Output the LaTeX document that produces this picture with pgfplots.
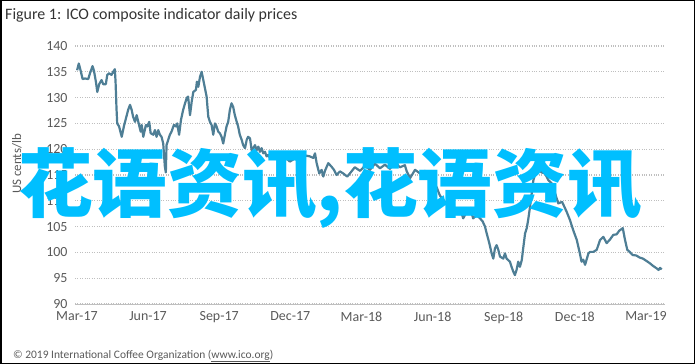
\documentclass[border=0pt]{standalone}
\usepackage{fontspec}
\setmainfont{Carlito}
\newfontfamily\cjk{Noto Sans CJK SC}
\usepackage{pgfplots}
\pgfplotsset{compat=1.18}
\definecolor{lineblue}{HTML}{4E7E95}
\definecolor{gridgray}{HTML}{BFBFBF}
\definecolor{txtgray}{HTML}{595959}
\definecolor{wmcyan}{HTML}{00BFFF}
\begin{document}
\begin{tikzpicture}
\path[use as bounding box] (0,0) rectangle (695bp,364bp);
\begin{axis}[
  at={(75bp,60bp)}, anchor=south west,
  scale only axis, width=590bp, height=258bp,
  xmin=-0.08, xmax=24.8, ymin=90, ymax=140,
  axis x line=bottom, axis y line=left,
  x axis line style={gridgray, line width=0.8bp, -},
  y axis line style={draw=none},
  xtick={0,3,6,9,12,15,18,21,24},
  xticklabels={Mar-17,Jun-17,Sep-17,Dec-17,Mar-18,Jun-18,Sep-18,Dec-18,Mar-19},
  ytick={90,95,...,140},
  ymajorgrids,
  major grid style={gridgray, dotted, line width=1.2bp},
  major tick length=0pt,
  tick label style={font=\fontsize{14}{14}\selectfont, text=txtgray},
  xticklabel style={yshift=-4bp},
  yticklabel style={xshift=-4bp},
  /pgf/number format/assume math mode=true,
  clip=false,
]
\addplot[lineblue, line width=2.2bp, line join=round] coordinates {
(0.01,135.3)(0.08,136.6)(0.17,135.0)(0.24,133.6)(0.34,133.7)(0.48,133.6)(0.55,134.7)(0.66,136.1)(0.72,135.2)(0.80,133.1)
(0.86,131.1)(0.94,132.6)(1.04,133.4)(1.11,132.6)(1.22,132.6)(1.28,134.4)(1.36,134.7)(1.46,134.4)(1.53,135.0)(1.60,135.5)
(1.63,133.1)(1.67,127.9)(1.70,125.0)(1.78,124.4)(1.89,122.4)(1.98,124.4)(2.07,126.0)(2.16,127.6)(2.24,128.6)(2.31,127.6)
(2.37,126.3)(2.45,125.3)(2.52,126.6)(2.59,125.3)(2.69,123.4)(2.73,124.7)(2.80,122.4)(2.91,124.7)(2.97,124.4)(3.05,125.3)
(3.11,123.1)(3.22,122.8)(3.29,123.7)(3.36,122.4)(3.43,123.7)(3.50,122.8)(3.57,122.4)(3.64,121.1)(3.71,116.6)(3.75,115.5)
(3.78,120.8)(3.85,121.8)(3.92,122.8)(3.99,123.4)(4.09,124.7)(4.18,124.4)(4.23,125.0)(4.31,122.8)(4.39,125.7)(4.48,127.6)
(4.56,128.9)(4.63,129.9)(4.69,130.2)(4.77,126.6)(4.84,129.2)(4.91,131.1)(5.02,131.5)(5.06,133.1)(5.12,132.1)(5.19,134.0)
(5.26,135.0)(5.33,133.4)(5.40,131.8)(5.47,130.2)(5.54,126.3)(5.61,125.3)(5.68,124.7)(5.75,122.8)(5.82,125.0)(5.89,124.4)
(5.96,123.4)(6.03,123.1)(6.10,122.4)(6.17,121.1)(6.24,122.8)(6.31,124.4)(6.38,125.3)(6.45,127.6)(6.52,128.9)(6.59,128.2)
(6.66,126.6)(6.74,125.3)(6.80,124.4)(6.87,122.8)(6.95,121.8)(7.01,120.8)(7.09,120.2)(7.16,121.8)(7.22,122.4)(7.30,122.1)
(7.37,119.8)(7.44,120.2)(7.51,120.8)(7.58,119.8)(7.65,120.5)(7.72,119.5)(7.79,120.2)(7.86,119.2)(7.93,119.5)(8.00,118.6)
(8.07,118.9)(8.14,118.3)(8.28,118.6)(8.42,118.3)(8.56,117.8)(8.77,118.5)(8.98,117.6)(9.19,118.2)(9.41,117.5)(9.62,118.8)
(9.83,118.6)(9.97,118.3)(10.04,119.2)(10.11,117.3)(10.22,115.3)(10.32,116.0)(10.39,114.7)(10.46,115.8)(10.60,117.3)(10.74,116.6)
(10.84,116.0)(10.95,115.0)(11.09,115.7)(11.23,115.3)(11.40,114.7)(11.51,115.3)(11.72,116.5)(11.94,115.8)(12.15,116.8)(12.36,116.0)
(12.57,117.2)(12.78,116.3)(12.99,117.0)(13.20,116.2)(13.41,117.5)(13.62,116.5)(13.83,116.9)(13.91,115.7)(14.05,114.4)(14.26,116.0)
(14.47,115.3)(14.68,115.8)(14.89,115.0)(15.03,114.0)(15.18,112.5)(15.31,111.0)(15.52,109.8)(15.73,109.2)(15.80,108.2)(15.90,108.8)
(16.01,107.6)(16.15,108.6)(16.29,106.6)(16.44,107.9)(16.58,108.6)(16.71,106.6)(16.86,107.2)(17.00,106.6)(17.11,106.0)(17.21,105.0)
(17.28,103.7)(17.39,101.8)(17.49,99.8)(17.56,98.8)(17.63,100.8)(17.70,101.4)(17.77,100.5)(17.84,99.2)(17.98,98.8)(18.05,99.8)
(18.12,98.8)(18.26,98.2)(18.33,97.2)(18.40,96.3)(18.47,95.6)(18.54,96.6)(18.61,98.2)(18.68,97.2)(18.76,98.5)(18.82,100.8)
(18.90,103.7)(18.97,104.7)(19.03,106.3)(19.11,108.9)(19.18,111.5)(19.25,114.0)(19.36,115.7)(19.46,116.0)(19.60,115.5)(19.74,115.3)
(19.88,114.0)(20.02,113.4)(20.16,111.5)(20.30,109.5)(20.46,109.8)(20.65,107.9)(20.79,106.3)(20.93,104.3)(21.08,102.4)(21.21,99.8)
(21.28,98.2)(21.35,98.6)(21.43,97.6)(21.57,99.8)(21.64,100.1)(21.78,100.1)(21.92,100.5)(22.06,102.4)(22.20,103.0)(22.34,101.8)
(22.48,102.5)(22.62,103.4)(22.76,103.5)(22.87,104.2)(23.02,104.7)(23.11,102.5)(23.21,100.5)(23.31,100.1)(23.43,99.5)(23.59,99.4)
(23.73,99.0)(23.87,98.8)(24.00,98.4)(24.16,97.9)(24.29,97.4)(24.45,96.9)(24.53,96.6)(24.59,97.0)(24.66,96.7)
};
\end{axis}
\node[anchor=base west, text=black!80, font=\fontsize{16}{16}\selectfont, inner sep=0pt] at (5bp,344bp) {Figure 1: ICO composite indicator daily prices};
\node[rotate=90, text=txtgray, font=\fontsize{13}{13}\selectfont, inner sep=0pt] at (17bp,200bp) {US cents/lb};
\node[anchor=base west, text=txtgray, font=\fontsize{11.5}{11.5}\selectfont, inner sep=0pt] at (13bp,6bp) {\textcopyright{} 2019 International Coffee Organization (\underline{www.ico.org})};
\node[text=wmcyan, font=\cjk\bfseries\fontsize{75}{75}\selectfont, inner sep=0pt] at (330bp,176bp) {花语资讯,花语资讯};
\draw[black, line width=1.5bp] (0.75bp,0.75bp) rectangle (694.25bp,363.25bp);
\end{tikzpicture}
\end{document}
